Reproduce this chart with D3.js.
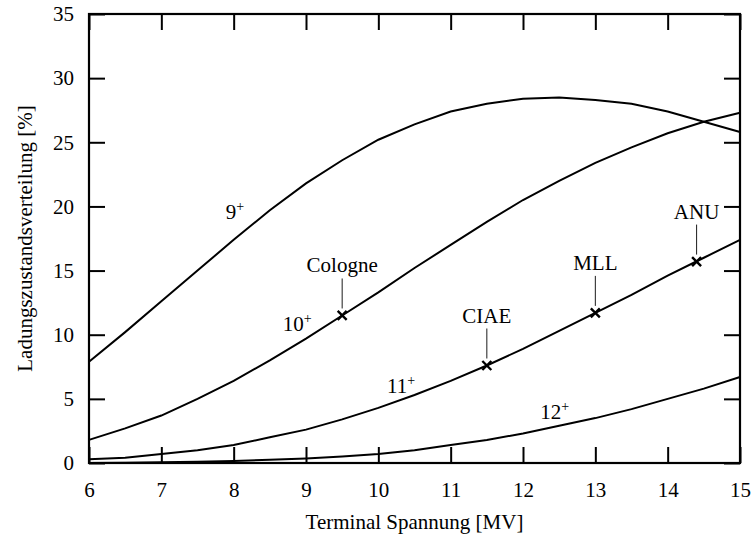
<!DOCTYPE html>
<html>
<head>
<meta charset="utf-8">
<script src="https://cdn.jsdelivr.net/npm/d3@7"></script>
<style>
  body { margin: 0; background: #fff; }
</style>
</head>
<body>
<svg id="chart"></svg>
<script>
const margin = { top: 14, right: 12, bottom: 75, left: 89 },
    width = 752 - margin.left - margin.right,
    height = 538 - margin.top - margin.bottom;

const serif = "Liberation Serif";
const fs = 21;

// voltages in MV
const voltages = [6, 6.5, 7, 7.5, 8, 8.5, 9, 9.5, 10, 10.5, 11, 11.5, 12, 12.5, 13, 13.5, 14, 14.5, 15];

// charge state fractions in %
const q9  = [7.9, 10.2, 12.6, 15.0, 17.4, 19.7, 21.8, 23.6, 25.2, 26.4, 27.4, 28.0, 28.4, 28.5, 28.3, 28.0, 27.4, 26.6, 25.8];
const q10 = [1.8, 2.7, 3.7, 5.0, 6.4, 8.0, 9.7, 11.5, 13.3, 15.2, 17.0, 18.8, 20.5, 22.0, 23.4, 24.6, 25.7, 26.6, 27.3];
const q11 = [0.3, 0.4, 0.7, 1.0, 1.4, 2.0, 2.6, 3.4, 4.3, 5.3, 6.4, 7.6, 8.9, 10.3, 11.7, 13.1, 14.6, 16.0, 17.4];
const q12 = [0.0, 0.02, 0.05, 0.1, 0.15, 0.25, 0.35, 0.5, 0.7, 1.0, 1.4, 1.8, 2.3, 2.9, 3.5, 4.2, 5.0, 5.8, 6.7];

const seriesNames = ["9", "10", "11", "12"];
// left edge / baseline of each curve label (data coords)
const labelX = [7.89, 8.68, 10.12, 12.24];
const labelY = [19.0, 10.3, 5.46, 3.43];

// accelerator labs
const labs = ["Cologne", "CIAE", "MLL", "ANU"];
const labV = [9.5, 11.5, 13.0, 14.4];
const labQ = [11.5, 7.6, 11.7, 15.7];

const xTicks = [6, 7, 8, 9, 10, 11, 12, 13, 14, 15];
const yTicks = [0, 5, 10, 15, 20, 25, 30, 35];

const svg = d3.select("#chart")
    .attr("width", width + margin.left + margin.right)
    .attr("height", height + margin.top + margin.bottom)
    .attr("font-family", serif);

const g = svg.append("g").attr("transform", `translate(${margin.left},${margin.top})`);

const x = d3.scaleLinear().domain([6, 15]).range([0, width]);
const y = d3.scaleLinear().domain([0, 35]).range([height, 0]);

const tickLen = 16;

// axes: ticks pointing inward on all four sides
g.append("g")
    .attr("transform", `translate(0,${height})`)
    .call(d3.axisBottom(x).tickValues(xTicks).tickSizeInner(-tickLen).tickSizeOuter(0).tickPadding(19))
    .call(a => a.select(".domain").remove());
g.append("g")
    .call(d3.axisTop(x).tickValues(xTicks).tickSizeInner(-tickLen).tickSizeOuter(0).tickFormat(""))
    .call(a => a.select(".domain").remove());
g.append("g")
    .call(d3.axisLeft(y).tickValues(yTicks).tickSizeInner(-tickLen).tickSizeOuter(0).tickPadding(15))
    .call(a => a.select(".domain").remove());
g.append("g")
    .attr("transform", `translate(${width},0)`)
    .call(d3.axisRight(y).tickValues(yTicks).tickSizeInner(-tickLen).tickSizeOuter(0).tickFormat(""))
    .call(a => a.select(".domain").remove());
g.selectAll(".tick line").attr("stroke", "#000").attr("stroke-width", 2);
g.selectAll(".tick text").attr("font-size", fs);
g.selectAll("g").attr("font-family", serif);

// frame
g.append("rect")
    .attr("width", width).attr("height", height)
    .attr("fill", "none").attr("stroke", "#000").attr("stroke-width", 2.2);

// curves
const line = d3.line().x(d => x(d[0])).y(d => y(d[1]));
[q9, q10, q11, q12].forEach(s => {
    g.append("path")
        .datum(voltages.map((v, i) => [v, s[i]]))
        .attr("d", line)
        .attr("fill", "none")
        .attr("stroke", "#000")
        .attr("stroke-width", 2);
});

// curve labels like 9^+
seriesNames.forEach((n, i) => {
    const t = g.append("text")
        .attr("x", x(labelX[i]))
        .attr("y", y(labelY[i]))
        .attr("font-size", fs);
    t.append("tspan").text(n);
    t.append("tspan").attr("dy", -8).attr("font-size", 14).text("+");
});

// lab markers with leader lines
labs.forEach((name, i) => {
    const cx = x(labV[i]), cy = y(labQ[i]);
    g.append("line")
        .attr("x1", cx).attr("x2", cx)
        .attr("y1", cy - 7).attr("y2", cy - 37)
        .attr("stroke", "#000").attr("stroke-width", 0.9);
    g.append("path")
        .attr("d", `M${cx - 4.5},${cy - 4.5}L${cx + 4.5},${cy + 4.5}M${cx - 4.5},${cy + 4.5}L${cx + 4.5},${cy - 4.5}`)
        .attr("stroke", "#000").attr("stroke-width", 2.4);
    g.append("text")
        .attr("x", cx).attr("y", cy - 43)
        .attr("text-anchor", "middle")
        .attr("font-size", fs)
        .text(name);
});

// axis titles
svg.append("text")
    .attr("x", margin.left + width / 2)
    .attr("y", 529)
    .attr("text-anchor", "middle")
    .attr("font-size", fs)
    .text("Terminal Spannung [MV]");
svg.append("text")
    .attr("transform", `translate(32,${margin.top + height / 2}) rotate(-90)`)
    .attr("text-anchor", "middle")
    .attr("font-size", fs)
    .text("Ladungszustandsverteilung [%]");
</script>
</body>
</html>
